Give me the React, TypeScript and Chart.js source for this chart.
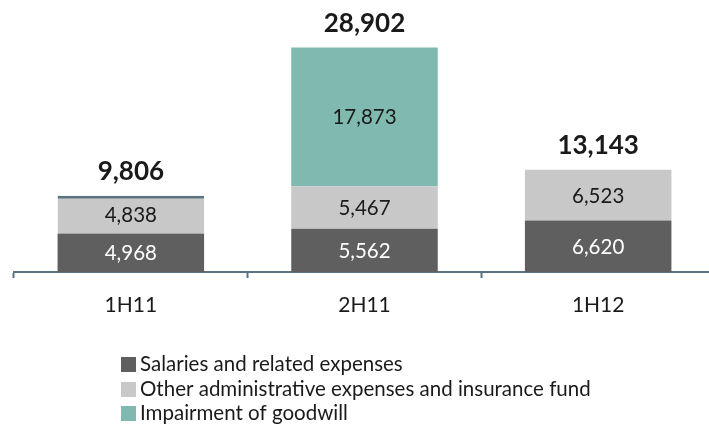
import React, { useEffect, useRef } from "react";
import { Chart, registerables } from "chart.js";

Chart.register(...registerables);

const categories = ["1H11", "2H11", "1H12"];
const salaries = [4968, 5562, 6620];
const otherAdmin = [4838, 5467, 6523];
const impairment = [0, 17873, 0];
const totals = [9806, 28902, 13143];

const seriesLabels = [
  "Salaries and related expenses",
  "Other administrative expenses and insurance fund",
  "Impairment of goodwill",
];
const seriesColors = ["#5f5f5f", "#c8c8c8", "#80b9b0"];
const labelColors = ["#ffffff", "#1a1a1a", "#1a1a1a"];

const FONT = "Lato, 'Noto Sans', sans-serif";

const fmt = (v: number) => v.toLocaleString("en-US");

const labelsPlugin = {
  id: "valueLabels",
  afterDatasetsDraw(chart: any) {
    const ctx = chart.ctx;
    ctx.save();
    ctx.textAlign = "center";
    ctx.textBaseline = "middle";
    ctx.font = `20.5px ${FONT}`;
    const tops: number[] = [];
    chart.data.datasets.forEach((ds: any, di: number) => {
      const meta = chart.getDatasetMeta(di);
      meta.data.forEach((el: any, i: number) => {
        const v = ds.data[i];
        const top = Math.min(el.y, el.base);
        if (v > 0) {
          tops[i] = tops[i] === undefined ? top : Math.min(tops[i], top);
          ctx.fillStyle = labelColors[di];
          ctx.fillText(fmt(v), el.x, (el.y + el.base) / 2 + 1);
        }
      });
    });
    ctx.font = `bold 26px ${FONT}`;
    ctx.fillStyle = "#1a1a1a";
    const meta0 = chart.getDatasetMeta(0);
    totals.forEach((t, i) => {
      const x = meta0.data[i].x;
      ctx.fillText(fmt(t), x, tops[i] - 24);
    });
    ctx.restore();
  },
  afterDraw(chart: any) {
    const ctx = chart.ctx;
    ctx.save();
    ctx.font = `20.5px ${FONT}`;
    ctx.textBaseline = "middle";
    ctx.textAlign = "left";
    const rows = [364, 389, 413];
    chart.data.datasets.forEach((ds: any, di: number) => {
      const y = rows[di];
      ctx.fillStyle = seriesColors[di];
      ctx.fillRect(121, y - 7, 15, 15);
      ctx.fillStyle = "#1a1a1a";
      ctx.fillText(ds.label, 140, y);
    });
    ctx.restore();
  },
};

export default function App() {
  const ref = useRef<HTMLCanvasElement>(null);
  useEffect(() => {
    if (!ref.current) return;
    const chart = new Chart(ref.current, {
      type: "bar",
      data: {
        labels: categories,
        datasets: [
          {
            label: seriesLabels[0],
            data: salaries,
            backgroundColor: seriesColors[0],
            borderWidth: 0,
          },
          {
            label: seriesLabels[1],
            data: otherAdmin,
            backgroundColor: seriesColors[1],
            borderColor: "#5a7580",
            borderSkipped: false,
            borderWidth: (c: any) =>
              c.dataIndex === 0 ? { top: 3, left: 0, right: 0, bottom: 0 } : 0,
          },
          {
            label: seriesLabels[2],
            data: impairment,
            backgroundColor: seriesColors[2],
            borderWidth: 0,
          },
        ],
      },
      options: {
        responsive: false,
        animation: false,
        layout: { padding: { left: 14, right: 5, top: 0, bottom: 0 } },
        plugins: { legend: { display: false }, tooltip: { enabled: false } },
        datasets: { bar: { categoryPercentage: 1, barPercentage: 0.627 } },
        scales: {
          x: {
            stacked: true,
            afterFit: (s: any) => {
              s.height = 154;
            },
            border: { display: true, color: "#5a7580", width: 2 },
            grid: {
              display: true,
              offset: true,
              drawOnChartArea: false,
              drawTicks: true,
              tickLength: 6,
              tickColor: "#5a7580",
              tickWidth: 2,
              color: "#5a7580",
            },
            ticks: {
              padding: 15,
              color: "#1a1a1a",
              font: { family: FONT, size: 21 },
            },
          },
          y: {
            stacked: true,
            display: false,
            min: 0,
            max: 35000,
          },
        },
      },
      plugins: [labelsPlugin],
    } as any);
    return () => chart.destroy();
  }, []);
  return (
    <div
      style={{
        position: "fixed",
        left: 0,
        top: 0,
        width: 709,
        height: 426,
        overflow: "hidden",
        background: "#ffffff",
      }}
    >
      <canvas ref={ref} width={720} height={426} style={{ width: 720, height: 426 }} />
    </div>
  );
}
